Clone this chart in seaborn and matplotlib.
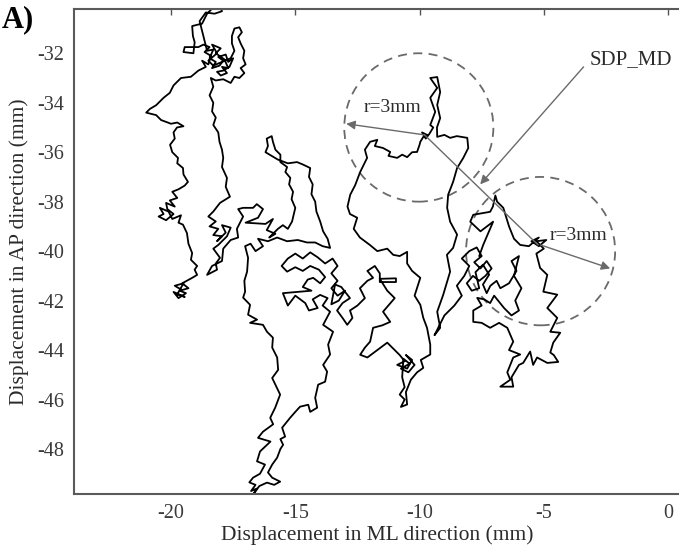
import numpy as np
import pandas as pd
import matplotlib
matplotlib.use("Agg")
import matplotlib.pyplot as plt
from matplotlib.patches import Circle
import seaborn as sns

# ---- COP trajectory (ML, AP) in mm, traced as consecutive pieces ----
path_left = [
    (-19.6, -41.55), (-19.85, -41.4), (-19.5, -41.3), (-19.75, -41.75), (-19.45, -41.85),
    (-19.9, -41.65), (-19.7, -41.9), (-19.4, -41.7), (-19.65, -41.6), (-19.3, -41.5),
    (-19.55, -41.3), (-19.15, -41.08), (-18.95, -40.96), (-19.05, -40.75), (-18.95, -40.6),
    (-19.2, -40.35), (-19.15, -40.08), (-19.3, -39.7), (-19.36, -39.27), (-19.52, -38.93),
    (-19.7, -38.85), (-19.6, -38.55), (-19.95, -38.7), (-20.1, -38.4), (-20.45, -38.25),
    (-20.3, -38.5), (-20.5, -38.6), (-20.2, -38.75), (-19.9, -38.5), (-20.15, -38.3),
    (-20.2, -38.05), (-19.85, -38.2), (-20.05, -37.95), (-19.75, -37.85), (-19.95, -37.6),
    (-19.7, -37.5), (-19.45, -37.35), (-19.32, -37.2), (-19.5, -36.9), (-19.52, -36.64),
    (-19.75, -36.45), (-19.72, -36.23), (-19.95, -36.0), (-20.04, -35.7), (-19.85, -35.45),
    (-19.9, -35.2), (-19.76, -35.0), (-19.5, -34.95), (-19.75, -34.8), (-20.0, -34.85),
    (-20.4, -34.7), (-20.6, -34.5), (-21.0, -34.4), (-20.85, -34.25), (-20.6, -34.1),
    (-20.3, -33.8), (-20.05, -33.6), (-19.9, -33.3), (-19.6, -33.0), (-19.2, -32.95),
    (-18.9, -32.7),
]

path_top = [
    (-18.6, -32.55), (-18.75, -32.3), (-18.5, -32.45), (-18.4, -32.1), (-18.65, -31.95),
    (-18.45, -31.75), (-18.7, -31.65), (-18.9, -31.75), (-19.45, -31.75), (-19.5, -31.95),
    (-19.1, -32.0), (-19.05, -31.55), (-19.12, -31.3), (-19.15, -30.9), (-18.75, -30.8),
    (-18.55, -30.4), (-18.3, -30.15), (-18.05, -30.05), (-17.95, -30.3), (-18.25, -30.4),
    (-18.6, -30.35), (-18.85, -30.7), (-18.7, -31.3), (-18.55, -31.9), (-18.3, -31.85),
    (-18.45, -32.2), (-18.2, -32.35), (-18.35, -32.6), (-18.05, -32.5), (-17.9, -32.3),
    (-18.1, -32.15), (-17.8, -32.05), (-17.7, -32.35), (-17.5, -32.2), (-17.65, -32.55),
    (-17.9, -32.7), (-18.15, -32.75), (-18.0, -32.9), (-17.75, -32.8), (-17.95, -32.55),
    (-17.7, -32.6), (-17.85, -32.25), (-18.2, -32.0), (-18.0, -31.8), (-18.35, -31.65),
    (-18.15, -32.0), (-18.5, -32.3), (-18.3, -32.5), (-17.6, -32.2),
    (-17.45, -31.9), (-17.55, -31.6), (-17.55, -31.3), (-17.45, -31.0), (-17.25, -30.95),
    (-17.15, -31.15), (-17.3, -31.35), (-17.2, -31.6), (-17.05, -31.9), (-17.1, -32.2),
    (-17.0, -32.45), (-17.2, -32.6), (-17.05, -32.8), (-17.25, -33.0), (-17.45, -32.95),
    (-17.6, -33.2), (-17.9, -33.05), (-18.2, -33.1), (-18.4, -33.0),
]

path_col2 = [
    (-18.3, -33.35), (-18.45, -33.7), (-18.3, -34.0), (-18.35, -34.35), (-18.2, -34.6),
    (-18.3, -34.9), (-18.1, -35.2), (-18.05, -35.58), (-17.95, -35.9), (-17.9, -36.23),
    (-17.95, -36.6), (-17.75, -37.04), (-17.8, -37.4), (-17.63, -37.8), (-18.03, -38.05),
    (-18.3, -38.4),
]

path_mid = [
    (-18.5, -38.6), (-18.2, -38.8), (-18.45, -39.0), (-18.1, -39.1), (-18.3, -39.35),
    (-17.95, -39.4), (-18.15, -39.6), (-17.8, -39.25), (-17.95, -38.95), (-17.6, -39.05),
    (-17.75, -39.4), (-18.1, -39.75), (-18.3, -39.9), (-18.03, -40.27), (-18.2, -40.5),
    (-18.15, -40.75), (-18.55, -40.96), (-18.35, -40.6), (-17.95, -40.4), (-17.9, -39.9),
    (-17.6, -39.55), (-17.3, -39.45), (-17.35, -39.1), (-17.1, -38.6), (-17.3, -38.3),
    (-17.1, -38.25), (-16.7, -38.25), (-16.55, -38.1), (-16.3, -38.3), (-16.5, -38.65),
    (-17.0, -38.85), (-16.2, -38.9), (-15.9, -38.7), (-16.15, -39.15), (-15.8, -39.3),
    (-16.05, -39.45), (-15.7, -39.1), (-15.5, -38.95), (-15.3, -39.1), (-15.13, -38.8),
    (-15.0, -38.25), (-15.15, -37.9), (-15.09, -37.6), (-15.25, -37.3), (-15.2, -37.04),
    (-15.4, -36.8), (-15.33, -36.6), (-15.6, -36.4), (-15.6, -36.1), (-15.8, -35.9),
    (-15.9, -35.58), (-15.95, -35.35), (-16.15, -35.45), (-16.1, -35.75), (-16.2, -36.0),
    (-15.95, -36.15), (-15.7, -36.3), (-15.3, -36.45), (-14.93, -36.4), (-14.69, -36.5),
    (-14.4, -36.64), (-14.45, -37.0), (-14.3, -37.3), (-14.35, -37.7), (-14.2, -38.0),
    (-14.15, -38.4), (-14.0, -38.8), (-13.88, -39.2), (-13.7, -39.5), (-13.6, -39.87),
    (-13.9, -39.8), (-14.2, -39.65), (-14.53, -39.65), (-14.9, -39.55), (-15.33, -39.6),
    (-15.73, -39.45), (-16.1, -39.6), (-16.5, -39.5), (-16.3, -39.8), (-16.6, -40.0),
    (-16.8, -39.7), (-17.02, -39.8),
]

path_tail = [
    (-16.9, -40.27), (-16.94, -40.83), (-17.05, -41.2), (-17.02, -41.64), (-17.1, -41.88),
    (-16.82, -42.17), (-16.9, -42.57), (-16.54, -42.77), (-16.82, -42.9), (-16.3, -42.98),
    (-16.14, -43.26), (-15.9, -43.5), (-15.93, -43.9), (-15.73, -44.3), (-15.69, -44.8),
    (-15.93, -45.13), (-15.61, -45.8), (-15.81, -46.33), (-16.01, -46.74), (-15.89, -47.0),
    (-16.3, -47.3), (-16.5, -47.55), (-16.0, -47.7), (-16.42, -48.1), (-16.54, -48.5),
    (-16.22, -48.63), (-16.42, -49.0), (-16.7, -49.16), (-16.85, -49.35), (-16.6, -49.45),
    (-16.78, -49.7), (-16.55, -49.6), (-16.7, -49.85), (-16.45, -49.5), (-16.14, -49.36),
    (-15.85, -49.45), (-15.61, -49.32), (-15.93, -49.16), (-16.1, -48.95), (-15.93, -48.63),
    (-15.73, -48.35), (-15.6, -48.0), (-15.49, -47.83), (-15.6, -47.6), (-15.41, -47.5),
    (-15.53, -47.14), (-15.21, -46.74), (-15.0, -46.5), (-14.81, -46.29), (-14.48, -46.21),
    (-14.4, -46.5), (-14.12, -46.33), (-14.2, -45.93), (-14.08, -45.4), (-13.8, -45.28),
    (-13.72, -44.87), (-13.88, -44.6), (-13.6, -44.18), (-13.68, -43.78), (-13.48, -43.26),
    (-13.88, -42.98), (-13.6, -42.45),
]

path_center = [
    (-13.9, -42.2), (-13.7, -41.9), (-14.0, -41.77), (-14.3, -41.95), (-14.1, -42.3),
    (-14.45, -42.4), (-14.6, -42.1), (-15.0, -41.8), (-15.3, -42.2), (-15.5, -41.7),
    (-14.35, -41.6), (-14.7, -41.45), (-14.5, -41.15), (-14.28, -41.08), (-14.0, -41.3),
    (-13.8, -41.05), (-14.05, -40.75), (-14.4, -40.6), (-14.7, -40.8), (-15.0, -40.65),
    (-15.33, -40.83), (-15.55, -40.6), (-15.3, -40.3), (-15.0, -40.1), (-14.7, -40.3),
    (-14.4, -40.05), (-14.1, -40.25), (-13.8, -40.5), (-13.5, -40.3), (-13.3, -40.6),
    (-13.55, -40.9), (-13.3, -41.2), (-13.55, -41.5), (-13.3, -41.8), (-13.0, -41.6),
    (-13.25, -42.0), (-13.55, -42.15), (-13.4, -41.35), (-13.15, -41.45),
    (-12.8, -41.9), (-13.1, -42.1), (-13.32, -42.4), (-13.1, -42.7), (-12.91, -42.98),
    (-12.7, -42.7), (-12.8, -42.4), (-12.5, -42.2), (-12.2, -41.9), (-12.4, -41.5),
    (-12.1, -41.2), (-11.87, -41.08), (-12.1, -40.8), (-11.8, -40.6), (-11.6, -40.9),
    (-11.6, -41.25), (-10.95, -41.25), (-10.95, -41.1), (-11.6, -41.12), (-11.3, -41.6),
    (-11.0, -41.9), (-11.47, -42.45), (-11.18, -42.86), (-11.5, -43.0), (-11.87, -43.1),
    (-11.99, -43.66), (-12.2, -43.9), (-12.39, -44.19), (-12.1, -44.3), (-11.7, -44.0),
    (-11.3, -43.7), (-11.0, -44.0), (-10.8, -44.2), (-10.6, -44.45), (-10.9, -44.6),
    (-10.5, -44.75), (-10.3, -44.4), (-10.55, -44.2), (-10.2, -44.6), (-10.45, -44.9),
    (-10.75, -44.75), (-10.4, -44.55), (-10.65, -44.35),
    (-10.7, -45.1), (-10.6, -45.5), (-10.8, -45.8), (-10.6, -46.0), (-10.75, -46.3),
    (-10.5, -46.2), (-10.55, -45.7), (-10.35, -45.2), (-10.1, -44.9), (-9.85, -44.72),
    (-9.95, -44.4), (-9.57, -44.18), (-9.57, -43.78), (-9.7, -43.1), (-9.85, -42.7),
    (-9.97, -42.17), (-10.2, -41.8), (-9.97, -41.08), (-10.3, -40.8), (-10.5, -40.5),
    (-10.5, -40.03), (-10.8, -40.2), (-11.06, -40.15), (-11.3, -39.9), (-11.7, -40.0),
    (-12.0, -39.75), (-12.4, -39.45),
]

path_circle1 = [
    (-12.65, -39.1), (-12.51, -38.65), (-12.8, -38.5), (-12.9, -38.2), (-12.79, -37.72),
    (-12.59, -37.33), (-12.39, -36.8), (-12.11, -36.23), (-12.2, -35.9), (-11.99, -35.58),
    (-11.7, -35.5), (-11.8, -35.75), (-11.47, -35.83), (-11.18, -35.99), (-11.25, -36.15),
    (-10.9, -36.23), (-10.7, -36.1), (-10.5, -36.2), (-10.3, -36.0), (-10.1, -35.99),
    (-10.0, -35.7), (-9.97, -35.58), (-9.85, -35.38), (-9.7, -35.3), (-9.9, -35.2),
    (-9.75, -35.45), (-9.6, -35.25), (-9.45, -35.0), (-9.57, -34.9), (-9.37, -34.37),
    (-9.57, -33.8), (-9.29, -33.4), (-9.57, -33.0), (-9.29, -32.96), (-9.17, -33.57),
    (-9.29, -34.09), (-9.17, -34.62), (-9.3, -35.0), (-9.29, -35.38), (-9.0, -35.3),
    (-8.77, -35.42), (-8.5, -35.35), (-8.08, -35.42), (-8.04, -35.83), (-8.24, -36.23),
    (-8.49, -36.64), (-8.65, -37.2), (-8.85, -37.72), (-8.89, -38.25), (-8.77, -38.81),
    (-8.49, -39.33), (-8.65, -39.87), (-8.9, -40.15), (-8.77, -40.83), (-9.05, -41.77),
    (-9.29, -42.45), (-9.17, -43.1), (-9.4, -43.4), (-9.0, -42.6), (-8.6, -42.2),
    (-8.3, -41.8), (-8.5, -41.4), (-8.2, -41.0),
]

path_right = [
    (-8.0, -40.6), (-8.3, -40.3), (-8.0, -40.0), (-7.7, -39.85), (-7.5, -40.2),
    (-7.8, -40.45), (-7.55, -40.7), (-7.3, -40.4), (-7.1, -40.7), (-7.35, -41.0),
    (-7.6, -41.2), (-7.85, -41.0), (-8.1, -41.3), (-7.9, -41.6), (-7.6, -41.5),
    (-7.75, -40.85), (-7.45, -40.55), (-7.2, -40.95), (-7.45, -41.35),
    (-7.3, -41.7), (-7.15, -41.4), (-6.9, -41.2), (-6.75, -41.5), (-6.4, -41.3),
    (-6.1, -40.8), (-6.3, -40.4), (-6.0, -40.2), (-6.2, -41.0), (-5.9, -41.5),
    (-6.15, -42.0), (-6.0, -42.4), (-6.3, -42.6), (-6.6, -42.3), (-7.0, -41.8),
    (-7.16, -42.1), (-7.4, -41.95), (-7.68, -41.89), (-7.5, -42.2), (-7.84, -42.4),
    (-7.84, -42.86), (-7.5, -42.9), (-7.16, -43.1), (-6.8, -42.9), (-6.47, -43.1),
    (-6.23, -43.66), (-6.4, -44.0), (-5.95, -44.18), (-6.23, -44.3), (-6.47, -44.9),
    (-6.35, -45.2), (-6.75, -45.48), (-6.23, -45.48), (-6.3, -45.1), (-6.0, -44.6),
    (-5.83, -44.52), (-5.55, -44.06), (-5.43, -44.6), (-5.27, -44.3), (-4.86, -44.52),
    (-4.42, -44.48), (-4.6, -44.2), (-4.74, -44.1), (-4.62, -43.7), (-4.34, -43.3),
    (-4.74, -43.26), (-4.46, -42.7), (-4.86, -42.3), (-4.46, -41.76), (-5.02, -41.64),
    (-4.86, -40.96), (-5.15, -40.68), (-5.3, -40.1), (-5.0, -39.9), (-5.3, -39.6),
    (-4.9, -39.55), (-5.2, -39.8), (-5.5, -39.6), (-5.2, -39.45), (-5.6, -39.8),
    (-5.95, -39.75), (-6.2, -39.5), (-6.4, -39.0), (-6.63, -38.25), (-6.88, -38.0),
    (-6.95, -37.75), (-7.05, -38.2), (-7.16, -38.41), (-7.84, -38.53), (-7.96, -38.81),
    (-7.55, -39.2), (-7.04, -38.81), (-7.44, -39.75), (-7.6, -40.2),
]

# circle centres, radius and annotation anchors (mm)
circle_centres = [(-10.03, -35.0), (-5.13, -40.0)]
radius_mm = 3.0
sdp_start = (-9.8, -35.3)
sdp_end = (-5.23, -39.75)

x_ticks = [-20, -15, -10, -5, 0]
y_ticks = [-48, -46, -44, -42, -40, -38, -36, -34, -32]

pieces = [path_left, path_top, path_col2, path_mid, path_tail,
          path_center, path_circle1, path_right]
traj = pd.DataFrame(np.concatenate([np.array(p) for p in pieces]),
                    columns=["ML", "AP"])
traj["t"] = np.arange(len(traj))

sns.set_style("white")
plt.rcParams["font.family"] = ["Liberation Serif", "DejaVu Serif"]

fig = plt.figure(figsize=(6.79, 5.53), dpi=100)
ax = fig.add_axes([74 / 679, 1 - 494 / 553, 607 / 679, 485 / 553])

sns.lineplot(data=traj, x="ML", y="AP", sort=False, estimator=None,
             color="black", lw=1.3, ax=ax)

ax.set_xlim(-23.905, 0.52)
ax.set_ylim(-49.82, -30.21)
ax.set_xticks(x_ticks)
ax.set_yticks(y_ticks)
ax.set_xticklabels([str(v) for v in x_ticks])
ax.set_yticklabels([str(v) for v in y_ticks])

gray = "#6a6a6a"
for c in circle_centres:
    ax.add_patch(Circle(c, radius_mm, fill=False, ec=gray, lw=1.3,
                        ls=(0, (5, 3.5))))

arrow_kw = dict(arrowstyle="-|>", color=gray, lw=1.0, mutation_scale=13,
                shrinkA=0, shrinkB=0)
ax.annotate("", xy=(-12.95, -34.85), xytext=sdp_start, arrowprops=arrow_kw)
ax.annotate("", xy=(-2.33, -40.7), xytext=(-5.13, -39.75), arrowprops=arrow_kw)
ax.plot([sdp_start[0], sdp_end[0]], [sdp_start[1], sdp_end[1]],
        color=gray, lw=1.0)
ax.annotate("", xy=(-7.56, -37.3), xytext=(-3.4, -32.55), arrowprops=arrow_kw)

txt = "#2b2b2b"
ax.text(-11.1, -34.2, "r=3mm", fontsize=14, color=txt, ha="center", va="center")
ax.text(-3.6, -39.35, "r=3mm", fontsize=14, color=txt, ha="center", va="center")
ax.text(-1.5, -32.27, "SDP_MD", fontsize=15, color=txt, ha="center", va="center")

ax.set_xlabel("Displacement in ML direction (mm)", fontsize=15.5, color=txt,
              labelpad=2)
ax.set_ylabel("Displacement in AP direction (mm)", fontsize=15.5, color=txt,
              labelpad=6)

ax.tick_params(direction="in", length=4, width=1, colors="#555555",
               labelcolor="#3a3a3a", labelsize=14.5, top=True, right=False,
               pad=7)
for s in ax.spines.values():
    s.set_color("#5a5a5a")
    s.set_linewidth(1.5)

fig.text(0.002, 1 - 27 / 553, "A)", fontsize=22, fontweight="bold",
         color="black", ha="left", va="baseline")

fig.savefig("out.png", dpi=100)
